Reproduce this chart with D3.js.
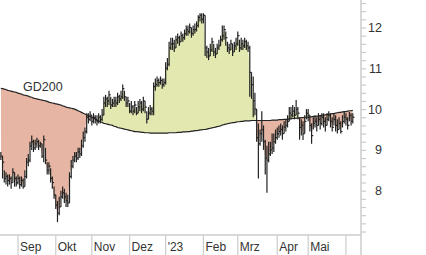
<!DOCTYPE html>
<html>
<head>
<meta charset="utf-8">
<script src="https://cdn.jsdelivr.net/npm/d3@7"></script>
<style>
  body { margin: 0; background: #fff; }
  svg text { font-family: "Liberation Sans", Arial, sans-serif; }
</style>
</head>
<body>
<div id="chart-area"></div>
<script>
// daily bars, aug 2022 - jun 2023 (trading days)
var cl = [
  8.85, 8.70, 8.30, 8.35, 8.25, 8.30, 8.20, 8.45, 8.30, 8.20,
  8.30, 8.15, 8.25, 8.10, 8.35, 8.70, 8.75, 9.10, 9.20, 9.05,
  9.15, 9.20, 9.10, 9.15, 8.85, 9.25, 8.75, 8.50, 8.60, 8.30,
  8.20, 7.90, 7.65, 7.45, 7.60, 7.85, 7.95, 7.85, 7.75, 7.70,
  8.35, 8.60, 8.75, 8.85, 8.80, 8.95, 8.90, 9.10, 9.30, 9.45,
  9.80, 9.75, 9.85, 9.70, 9.80, 9.75, 9.70, 9.80, 9.75, 9.85,
  10.15, 10.25, 10.20, 10.35, 10.10, 10.15, 10.20, 10.15, 10.30, 10.25,
  10.30, 10.50, 10.30, 10.15, 10.20, 9.95, 10.05, 9.95, 10.10, 9.90,
  10.05, 10.15, 10.00, 10.20, 10.05, 9.75, 9.90, 10.00, 9.95, 10.55,
  10.60, 10.70, 10.65, 10.70, 10.60, 10.65, 11.00, 11.10, 11.50, 11.60,
  11.60, 11.50, 11.70, 11.75, 11.65, 11.80, 11.75, 11.85, 11.95, 11.90,
  12.00, 11.85, 11.95, 11.95, 12.05, 12.25, 12.30, 12.20, 12.30, 11.50,
  11.40, 11.30, 11.45, 11.65, 11.40, 11.35, 11.50, 11.55, 11.70, 11.80,
  11.95, 11.75, 11.50, 11.45, 11.60, 11.40, 11.55, 11.60, 11.80, 11.50,
  11.60, 11.55, 11.65, 11.55, 11.50, 10.90, 10.60, 10.20, 10.00, 9.30,
  9.15, 9.40, 9.50, 9.20, 8.80, 8.75, 8.90, 9.00, 9.05, 9.20,
  9.30, 9.40, 9.45, 9.50, 9.40, 9.55, 9.60, 9.70, 9.90, 9.85,
  9.95, 9.85, 10.00, 9.90, 9.55, 9.60, 9.40, 9.70, 9.90, 9.85,
  9.60, 9.35, 9.65, 9.70, 9.60, 9.75, 9.65, 9.80, 9.70, 9.60,
  9.75, 9.85, 9.70, 9.55, 9.75, 9.60, 9.50, 9.65, 9.45, 9.70,
  9.80, 9.75, 9.60, 9.85, 9.70, 9.80
];
var hi = [
  8.95, 8.85, 8.50, 8.45, 8.40, 8.40, 8.35, 8.55, 8.45, 8.35,
  8.40, 8.35, 8.35, 8.30, 8.50, 8.80, 8.90, 9.20, 9.35, 9.25,
  9.25, 9.30, 9.25, 9.20, 9.15, 9.35, 9.05, 8.70, 8.70, 8.55,
  8.35, 8.10, 7.90, 7.75, 7.85, 8.00, 8.10, 8.05, 7.95, 7.90,
  8.45, 8.75, 8.85, 8.95, 8.95, 9.05, 9.05, 9.25, 9.45, 9.55,
  9.90, 9.90, 9.95, 9.85, 9.90, 9.85, 9.85, 9.90, 9.85, 10.00,
  10.30, 10.35, 10.30, 10.45, 10.30, 10.25, 10.30, 10.30, 10.40, 10.35,
  10.45, 10.60, 10.45, 10.30, 10.30, 10.15, 10.20, 10.10, 10.20, 10.05,
  10.20, 10.25, 10.20, 10.30, 10.20, 9.95, 10.05, 10.10, 10.05, 10.65,
  10.75, 10.80, 10.75, 10.80, 10.75, 10.75, 11.15, 11.25, 11.65, 11.75,
  11.75, 11.70, 11.80, 11.85, 11.80, 11.90, 11.85, 11.95, 12.05, 12.05,
  12.10, 12.00, 12.05, 12.10, 12.15, 12.30, 12.35, 12.35, 12.35, 12.30,
  11.55, 11.50, 11.60, 11.75, 11.60, 11.50, 11.60, 11.70, 11.80, 12.05,
  12.05, 11.90, 11.65, 11.60, 11.70, 11.60, 11.65, 11.75, 11.90, 11.70,
  11.75, 11.70, 11.75, 11.70, 11.65, 11.55, 10.90, 10.80, 10.40, 10.00,
  9.65, 9.50, 9.95, 9.60, 9.25, 9.10, 9.20, 9.20, 9.40, 9.40,
  9.50, 9.55, 9.60, 9.65, 9.60, 9.70, 9.75, 9.85, 10.05, 10.05,
  10.10, 10.05, 10.22, 10.05, 9.80, 9.75, 9.70, 9.85, 10.00, 10.00,
  9.85, 9.65, 9.80, 9.85, 9.80, 9.90, 9.85, 9.90, 9.90, 9.80,
  9.90, 9.95, 9.90, 9.80, 9.90, 9.85, 9.75, 9.80, 9.70, 9.85,
  9.93, 9.90, 9.80, 9.93, 9.90, 9.90
];
var lo = [
  8.75, 8.30, 8.20, 8.15, 8.10, 8.15, 8.05, 8.20, 8.10, 8.10,
  8.15, 8.05, 8.10, 8.05, 8.10, 8.30, 8.60, 8.70, 9.00, 8.95,
  9.00, 9.05, 9.00, 9.05, 8.80, 8.70, 8.65, 8.40, 8.40, 8.20,
  8.05, 7.80, 7.55, 7.23, 7.40, 7.60, 7.80, 7.70, 7.60, 7.60,
  7.70, 8.30, 8.55, 8.70, 8.70, 8.75, 8.80, 8.85, 9.05, 9.20,
  9.40, 9.65, 9.70, 9.60, 9.65, 9.65, 9.60, 9.65, 9.65, 9.70,
  9.85, 10.05, 10.05, 10.10, 10.00, 10.05, 10.05, 10.05, 10.10, 10.15,
  10.20, 10.25, 10.20, 10.05, 10.05, 9.90, 9.90, 9.85, 9.90, 9.85,
  9.90, 9.95, 9.90, 9.95, 9.90, 9.65, 9.75, 9.85, 9.85, 9.85,
  10.45, 10.55, 10.55, 10.60, 10.50, 10.55, 10.60, 10.95, 11.05, 11.45,
  11.45, 11.40, 11.50, 11.60, 11.55, 11.65, 11.65, 11.70, 11.80, 11.80,
  11.85, 11.75, 11.80, 11.85, 11.90, 12.00, 12.15, 12.10, 12.10, 11.30,
  11.25, 11.20, 11.30, 11.40, 11.30, 11.25, 11.35, 11.45, 11.55, 11.65,
  11.70, 11.55, 11.40, 11.35, 11.45, 11.30, 11.40, 11.45, 11.55, 11.40,
  11.45, 11.45, 11.50, 11.45, 11.40, 10.30, 10.25, 9.80, 9.85, 9.20,
  8.30, 9.10, 9.20, 9.00, 8.40, 7.95, 8.70, 8.85, 8.90, 8.95,
  9.15, 9.25, 9.30, 9.35, 9.25, 9.40, 9.45, 9.55, 9.70, 9.75,
  9.80, 9.75, 9.85, 9.75, 9.25, 9.35, 9.24, 9.40, 9.75, 9.70,
  9.45, 9.15, 9.50, 9.55, 9.45, 9.60, 9.50, 9.60, 9.55, 9.45,
  9.60, 9.70, 9.55, 9.45, 9.60, 9.45, 9.40, 9.50, 9.40, 9.55,
  9.65, 9.60, 9.50, 9.70, 9.60, 9.65
];
// GD200 (200-day average)
var gd200 = [
  10.51, 10.50, 10.49, 10.48, 10.46, 10.45, 10.44, 10.43, 10.42, 10.41,
  10.39, 10.38, 10.37, 10.35, 10.34, 10.33, 10.32, 10.30, 10.29, 10.27,
  10.26, 10.25, 10.24, 10.23, 10.22, 10.21, 10.20, 10.19, 10.17, 10.16,
  10.15, 10.14, 10.13, 10.12, 10.11, 10.10, 10.08, 10.07, 10.05, 10.04,
  10.03, 10.02, 10.01, 10.00, 9.98, 9.96, 9.94, 9.92, 9.90, 9.88,
  9.86, 9.84, 9.82, 9.80, 9.78, 9.76, 9.73, 9.71, 9.69, 9.67,
  9.65, 9.64, 9.63, 9.62, 9.61, 9.60, 9.58, 9.57, 9.55, 9.54,
  9.53, 9.52, 9.51, 9.50, 9.49, 9.48, 9.47, 9.46, 9.45, 9.45,
  9.44, 9.44, 9.43, 9.43, 9.42, 9.42, 9.42, 9.41, 9.41, 9.41,
  9.41, 9.41, 9.41, 9.41, 9.41, 9.41, 9.41, 9.41, 9.42, 9.42,
  9.42, 9.42, 9.42, 9.43, 9.43, 9.43, 9.44, 9.44, 9.44, 9.45,
  9.45, 9.46, 9.46, 9.47, 9.47, 9.48, 9.49, 9.49, 9.50, 9.50,
  9.51, 9.52, 9.53, 9.54, 9.55, 9.56, 9.57, 9.58, 9.59, 9.61,
  9.62, 9.63, 9.64, 9.65, 9.66, 9.67, 9.67, 9.68, 9.69, 9.69,
  9.70, 9.70, 9.71, 9.71, 9.71, 9.71, 9.72, 9.72, 9.72, 9.72,
  9.72, 9.72, 9.72, 9.72, 9.72, 9.72, 9.72, 9.72, 9.73, 9.73,
  9.73, 9.73, 9.74, 9.74, 9.74, 9.75, 9.75, 9.75, 9.76, 9.76,
  9.77, 9.77, 9.78, 9.78, 9.78, 9.79, 9.79, 9.80, 9.80, 9.80,
  9.81, 9.81, 9.82, 9.82, 9.83, 9.83, 9.84, 9.85, 9.85, 9.86,
  9.87, 9.87, 9.88, 9.89, 9.89, 9.90, 9.91, 9.92, 9.92, 9.93,
  9.94, 9.94, 9.95, 9.96, 9.96, 9.97
];
// month labels and the index of their first trading day
var months = ["Sep", "Okt", "Nov", "Dez", "'23", "Feb", "Mrz", "Apr", "Mai", ""];
var monthStart = [10, 32, 53, 75, 96, 118, 138, 161, 179, 201];
var yLabels = [8, 9, 10, 11, 12];

var W = 426, H = 255;
var plotW = 361, plotH = 235;

var svg = d3.select("#chart-area").append("svg")
  .attr("width", W)
  .attr("height", H);

var x = d3.scaleLinear().domain([0, 205]).range([0.83, 352.8]);
var y = d3.scaleLinear().domain([8, 12]).range([190.7, 27.5]);

var idx = d3.range(cl.length);

var defs = svg.append("defs");
defs.append("clipPath").attr("id", "plot")
  .append("rect").attr("x", 0).attr("y", 0).attr("width", plotW).attr("height", plotH);
defs.append("clipPath").attr("id", "above")
  .append("path")
  .attr("d", d3.area().x(function(i){ return x(i); }).y0(0).y1(function(i){ return y(gd200[i]); })(idx));
defs.append("clipPath").attr("id", "below")
  .append("path")
  .attr("d", d3.area().x(function(i){ return x(i); }).y0(plotH).y1(function(i){ return y(gd200[i]); })(idx));

var g = svg.append("g").attr("clip-path", "url(#plot)");

var band = d3.area()
  .x(function(i){ return x(i); })
  .y0(function(i){ return y(gd200[i]); })
  .y1(function(i){ return y(cl[i]); });

g.append("path").attr("d", band(idx))
  .attr("fill", "#e3e8b1")
  .attr("clip-path", "url(#above)");
g.append("path").attr("d", band(idx))
  .attr("fill", "#e6b5a3")
  .attr("clip-path", "url(#below)");

// average line
g.append("path")
  .attr("d", d3.line().x(function(i){ return x(i); }).y(function(i){ return y(gd200[i]); })(idx))
  .attr("fill", "none")
  .attr("stroke", "#222")
  .attr("stroke-width", 1.2);

// price bars
var bars = g.selectAll(".bar").data(idx).enter().append("g").attr("class", "bar");
bars.append("line")
  .attr("x1", function(i){ return x(i); })
  .attr("x2", function(i){ return x(i); })
  .attr("y1", function(i){ return y(hi[i]); })
  .attr("y2", function(i){ return y(lo[i]); })
  .attr("stroke", "#222").attr("stroke-width", 1.2);
bars.append("line")
  .attr("x1", function(i){ return x(i); })
  .attr("x2", function(i){ return x(i) + 1.7; })
  .attr("y1", function(i){ return y(cl[i]); })
  .attr("y2", function(i){ return y(cl[i]); })
  .attr("stroke", "#222").attr("stroke-width", 1.2);

// GD200 label
svg.append("text")
  .attr("x", 23).attr("y", 91)
  .attr("font-size", "12.5px")
  .attr("fill", "#333")
  .text("GD200");

// right axis
var yAxis = d3.axisRight(y)
  .tickValues(d3.range(70, 127, 2).map(function(v){ return v / 10; }))
  .tickSize(5)
  .tickFormat("");
var ya = svg.append("g").attr("transform", "translate(" + plotW + ",0)").call(yAxis);
ya.select(".domain").remove();
ya.selectAll("line").attr("stroke", "#ccc").attr("stroke-width", 1.2);
svg.append("line")
  .attr("x1", plotW).attr("x2", plotW).attr("y1", 0).attr("y2", H)
  .attr("stroke", "#ccc").attr("stroke-width", 1.5);
svg.selectAll(".ylab").data(yLabels).enter().append("text")
  .attr("class", "ylab")
  .attr("x", 382)
  .attr("y", function(d){ return y(d) + 4.5; })
  .attr("text-anchor", "end")
  .attr("font-size", "12.5px")
  .attr("fill", "#333")
  .text(function(d){ return d; });

// bottom axis
svg.append("line")
  .attr("x1", 0).attr("x2", plotW).attr("y1", plotH).attr("y2", plotH)
  .attr("stroke", "#ccc").attr("stroke-width", 1.5);
svg.selectAll(".msep").data(monthStart).enter().append("line")
  .attr("class", "msep")
  .attr("x1", function(d){ return x(d); })
  .attr("x2", function(d){ return x(d); })
  .attr("y1", plotH).attr("y2", H)
  .attr("stroke", "#ccc").attr("stroke-width", 1.2);
svg.selectAll(".mlab").data(months).enter().append("text")
  .attr("class", "mlab")
  .attr("x", function(d, i){ return x(monthStart[i]) + 2; })
  .attr("y", 251)
  .attr("font-size", "12px")
  .attr("fill", "#333")
  .text(function(d){ return d; });
</script>
</body>
</html>
